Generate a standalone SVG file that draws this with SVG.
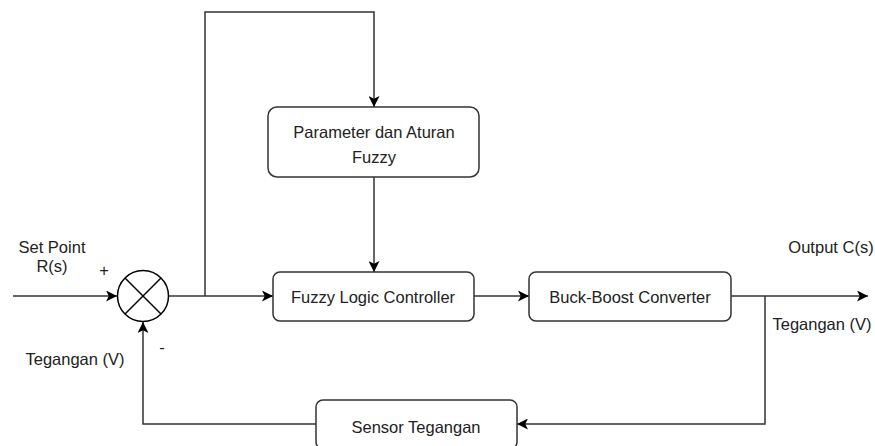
<svg xmlns="http://www.w3.org/2000/svg" width="875" height="446" viewBox="0 0 875 446">
<defs>
<marker id="arr" viewBox="0 0 10 10" refX="10" refY="5" markerWidth="11" markerHeight="11" markerUnits="userSpaceOnUse" orient="auto">
<path d="M0,0 L10,5 L0,10 L2.5,5 Z" fill="#000"/>
</marker>
<style>
.box{fill:#fff;stroke:#333;stroke-width:1.5}
.ln{fill:none;stroke:#333;stroke-width:1.5}
.t{font-family:"Liberation Sans",Arial,sans-serif;font-size:16.5px;fill:#222;text-anchor:middle}
</style>
</defs>
<rect width="875" height="446" fill="#fff"/>
<g id="connectors">
<path class="ln" d="M13,296 H117" marker-end="url(#arr)"/>
<path class="ln" d="M168,296 H273" marker-end="url(#arr)"/>
<path class="ln" d="M205,296 V12 H374 V107" marker-end="url(#arr)"/>
<path class="ln" d="M374,177 V272" marker-end="url(#arr)"/>
<path class="ln" d="M474,296 H529" marker-end="url(#arr)"/>
<path class="ln" d="M731,296 H868" marker-end="url(#arr)"/>
<path class="ln" d="M765,296 V424 H517" marker-end="url(#arr)"/>
<path class="ln" d="M316,424 H143 V322" marker-end="url(#arr)"/>
</g>
<g id="sum">
<circle cx="143" cy="296" r="25.5" fill="#fff" stroke="#000" stroke-width="1.5"/>
<path d="M125,278 L161,314 M161,278 L125,314" stroke="#000" stroke-width="1.5"/>
</g>
<g id="param">
<rect class="box" x="268" y="107" width="211" height="70" rx="9"/>
<text class="t" x="374" y="138">Parameter dan Aturan</text>
<text class="t" x="374" y="163">Fuzzy</text>
</g>
<g id="flc">
<rect class="box" x="273" y="272" width="201" height="49" rx="7"/>
<text class="t" x="373" y="303">Fuzzy Logic Controller</text>
</g>
<g id="buck">
<rect class="box" x="529" y="272" width="202" height="49" rx="7"/>
<text class="t" x="630" y="303">Buck-Boost Converter</text>
</g>
<g id="sensor">
<rect class="box" x="316" y="400" width="201" height="49" rx="7"/>
<text class="t" x="416" y="433">Sensor Tegangan</text>
</g>
<g id="labels">
<text class="t" x="52" y="253">Set Point</text>
<text class="t" x="52" y="272">R(s)</text>
<text class="t" x="104" y="276">+</text>
<text class="t" x="162" y="353">-</text>
<text class="t" x="75" y="365">Tegangan (V)</text>
<text class="t" x="831" y="253">Output C(s)</text>
<text class="t" x="822" y="330">Tegangan (V)</text>
</g>
</svg>
